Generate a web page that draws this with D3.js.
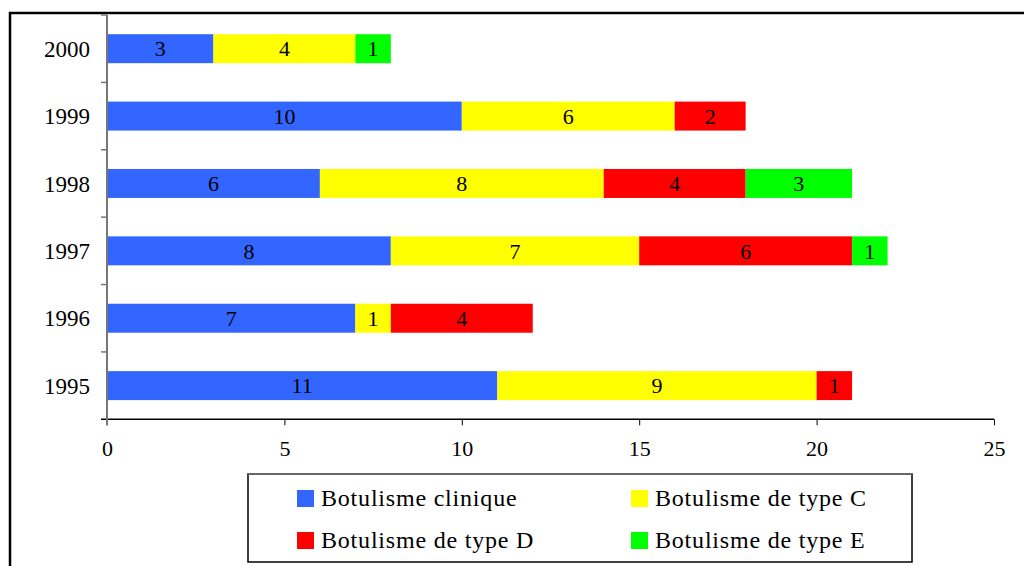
<!DOCTYPE html>
<html><head><meta charset="utf-8">
<script src="https://cdn.jsdelivr.net/npm/d3@7"></script>
<style>body{margin:0;background:#fff}svg{display:block}</style>
</head><body>
<svg id="c" width="1024" height="566"></svg>
<script>
const years = ["2000","1999","1998","1997","1996","1995"];
const seriesNames = ["Botulisme clinique","Botulisme de type C","Botulisme de type D","Botulisme de type E"];
const clinique = [3,10,6,8,7,11];
const typeC = [4,6,8,7,1,9];
const typeD = [0,2,4,6,4,1];
const typeE = [1,0,3,1,0,0];
const xTicks = [0,5,10,15,20,25];
const colors = ["#3366FF","#FFFF00","#FF0000","#00FF00"];
const FONT = '"Liberation Serif"';

const svg = d3.select("#c");
svg.append("rect").attr("x",10).attr("y",13).attr("width",1030).attr("height",600)
  .attr("fill","none").attr("stroke","#000").attr("stroke-width",2.5);

const L=107, R=994, T=15, B=419.3;
const x = d3.scaleLinear().domain([0,25]).range([L,R]);
const y = d3.scaleBand().domain(years).range([T,B]).paddingInner(0.57).paddingOuter(0.285);
const yTick = d3.scaleBand().domain(years).range([T,B]);

const rows = years.map((yr,i)=>({year:yr, vals:[clinique[i],typeC[i],typeD[i],typeE[i]]}));
const segs = [];
rows.forEach(r=>{let acc=0; r.vals.forEach((v,k)=>{ if(v>0) segs.push({year:r.year,x0:acc,x1:acc+v,v,k}); acc+=v;});});

svg.append("g").selectAll("rect").data(segs).join("rect")
  .attr("x",d=>x(d.x0)).attr("width",d=>x(d.x1)-x(d.x0))
  .attr("y",d=>y(d.year)).attr("height",y.bandwidth())
  .attr("fill",d=>colors[d.k]);

svg.append("g").selectAll("text").data(segs).join("text")
  .attr("x",d=>(x(d.x0)+x(d.x1))/2).attr("y",d=>y(d.year)+y.bandwidth()/2)
  .attr("dy","0.35em").attr("text-anchor","middle")
  .style("font-family",FONT).attr("font-size",22).attr("fill","#000")
  .text(d=>d.v);

// x axis
const xa = svg.append("g").attr("transform",`translate(0,${B})`)
  .call(d3.axisBottom(x).tickValues(xTicks).tickSize(6).tickSizeOuter(0).tickPadding(15));
xa.select(".domain").remove();
xa.append("line").attr("x1",101).attr("x2",R).attr("stroke","#000").attr("stroke-width",1.5);
xa.selectAll(".tick line").attr("stroke","#000");
xa.selectAll("text").style("font-family",FONT).attr("font-size",22).attr("fill","#000");

// y axis
const ya = svg.append("g").attr("transform",`translate(${L},0)`);
ya.append("line").attr("y1",T).attr("y2",B+6).attr("stroke","#777").attr("stroke-width",2);
const bounds = years.map(yr=>yTick(yr));
ya.selectAll("line.t").data(bounds).join("line").attr("class","t")
  .attr("x1",-6).attr("x2",0).attr("y1",d=>d).attr("y2",d=>d).attr("stroke","#777").attr("stroke-width",1.5);
ya.selectAll("text").data(years).join("text")
  .attr("x",-17).attr("y",d=>y(d)+y.bandwidth()/2).attr("dy","0.35em")
  .attr("text-anchor","end").style("font-family",FONT).attr("font-size",23).attr("fill","#000")
  .text(d=>d);

// legend
const lg = svg.append("g");
lg.append("rect").attr("x",248).attr("y",474).attr("width",664).attr("height",88)
  .attr("fill","#fff").attr("stroke","#000").attr("stroke-width",1.5);
lg.append("line").attr("x1",248).attr("x2",912).attr("y1",474).attr("y2",474).attr("stroke","#777").attr("stroke-width",1.5);
const lpos = [[297,498],[631,498],[297,540],[631,540]];
seriesNames.forEach((n,k)=>{
  const [lx,ly]=lpos[k];
  lg.append("rect").attr("x",lx).attr("y",ly-8).attr("width",17).attr("height",17).attr("fill",colors[k]);
  lg.append("text").attr("x",lx+24).attr("y",ly).attr("dy","0.35em")
    .style("font-family",FONT).style("letter-spacing","0.8px").attr("font-size",24).attr("fill","#000").text(n);
});
</script>
</body></html>
